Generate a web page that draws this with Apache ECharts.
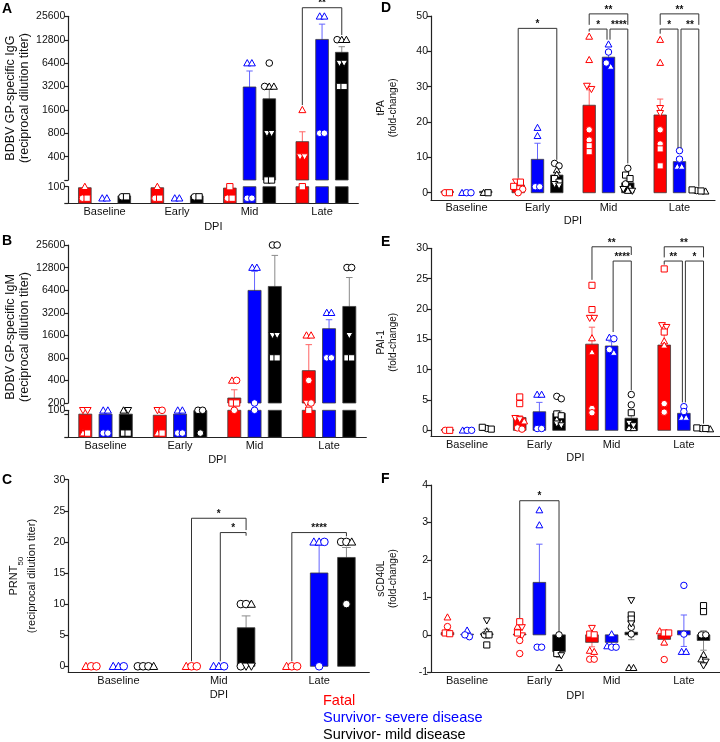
<!DOCTYPE html>
<html>
<head>
<meta charset="utf-8">
<title>BDBV antibody and coagulation responses</title>
<script src="https://cdn.jsdelivr.net/npm/echarts@6.0.0/dist/echarts.min.js"></script>
<style>
html,body{margin:0;padding:0;background:#ffffff;}
#chart{width:720px;height:742px;}
</style>
</head>
<body>
<div id="chart"></div>
<script>
/* ===================== DATA ===================== */
const groupNames = ['Fatal', 'Survivor- severe disease', 'Survivor- mild disease'];
const dpiFour = ['Baseline', 'Early', 'Mid', 'Late'];
const dpiThree = ['Baseline', 'Mid', 'Late'];
// marker of each animal, in the order used by the point lists below
const fatalMarkers = ['t', 't', 'v', 'v', 'c', 'c', 's', 's'];
const severeMarkers = ['t', 't', 'c', 'c'];
const mildMarkers = ['c', 'c', 'c', 't', 't', 's', 's', 'v', 'v'];

// A: BDBV GP-specific IgG (reciprocal dilution titer); rows = DPI, cols = groups
const igGMean = [[97, 60, 76], [97, 60, 76], [96, 3150, 2220], [623, 12900, 8800]];
const igGSem = [[0, 0, 0], [0, 0, 0], [0, 1910, 730], [212, 7400, 1600]];
const igGPoints = [
  [[100, null, null, null, 71, null, 71, null], [71, 71, null, null], [74, null, null, null, null, 74, null, null, null]],
  [[100, null, null, null, 71, null, 71, null], [71, 71, null, null], [74, null, null, null, null, 74, null, null, null]],
  [[null, null, null, null, 71, null, 100, 71], [6400, 6400, 71, 71], [6400, 3200, null, 3200, 3200, 200, 200, 800, 800]],
  [[1600, null, 400, 400, null, null, 100, null], [25600, 25600, 800, 800], [12800, null, null, 12800, 12800, 3200, 3200, 6400, 6400]]
];
const igGBrackets = [[3, 0, 2, 33000, 1840, 14700, '**']];

// B: BDBV GP-specific IgM
const igMMean = [[89, 89, 89], [86, 89, 99], [233, 6350, 7170], [540, 1960, 3880]];
const igMSem = [[0, 0, 0], [0, 0, 0], [67, 5050, 11430], [660, 620, 5550]];
const igMPoints = [
  [[null, 50, 100, 100, null, null, 50, null], [100, 100, 50, 50], [null, null, null, 100, null, 50, 50, 100, null]],
  [[null, 50, 100, null, 100, null, 50, null], [100, 100, 50, 50], [100, 100, 50, null, null, null, null, null, null]],
  [[400, null, null, null, 400, 100, 200, 200], [12800, 12800, 200, 100], [25600, 25600, null, null, null, 800, 800, 1600, 1600]],
  [[1600, 1600, 200, null, 400, 200, 100, null], [3200, 3200, 800, 800], [12800, 12800, null, null, null, 800, 800, 1600, null]]
];

// C: PRNT50
const prntMean = [[0, 0, 0], [0, 0, 6.2], [0, 15, 17.5]];
const prntSem = [[0, 0, 0], [0, 0, 1.9], [0, 4.5, 1.6]];
const prntPoints = [
  [[0, null, null, null, 0, 0, null, null], [0, 0, 0, null], [0, 0, 0, 0, null, null, null, null, null]],
  [[0, null, null, null, 0, 0, null, null], [0, 0, 0, null], [10, 10, 0, 10, null, null, null, 0, 0]],
  [[0, null, null, null, 0, 0, null, null], [20, 20, 20, 0], [20, 20, 10, 20, null, null, null, null, null]]
];
const prntBrackets = [[1, 0, 2, 23.8, 0.8, 21.9, '*'], [1, 1, 2, 21.5, 0.8, 21.0, '*'], [2, 0, 2, 21.5, 0.8, 20.9, '****']];

// D: tPA (fold-change)
const tpaMean = [[0.4, 0.2, 0.4], [2.2, 9.45, 5.0], [24.75, 38.35, 2.8], [22, 8.8, 0.5]];
const tpaSem = [[0.1, 0.1, 0.1], [0.5, 4.55, 0.8], [4.35, 1.4, 0.8], [4.5, 1.1, 0.1]];
const tpaPoints = [
  [[null, null, null, null, 0, null, 0, null], [0, null, 0, 0], [null, null, null, 0, null, 0, null, null, null]],
  [[null, null, 3.1, 1.2, 1.0, 0, 3.0, 1.8], [18.4, 16.1, 1.7, 1.7], [8.3, 7.6, null, 6.4, 5.2, 4.0, 3.0, 2.4, 2.0]],
  [[44.2, 37.6, 30.2, 29.3, 17.8, 14.9, 13.3, 11.6], [42.0, 35.7, 39.8, 36.7], [6.9, 2.5, null, 1.5, 0.6, 5.0, 4.0, 1.0, 0.5]],
  [[43.3, 36.8, 23.9, 22.5, 17.8, 13.8, 12.4, 7.6], [7.4, 7.4, 11.9, 9.5], [0.6, null, null, 0.4, null, 0.8, 0.5, null, null]]
];
const tpaBrackets = [
  [1, 0, 2, 46.5, 4.2, 9.3, '*'],
  [2, 0, 2, 50.6, 47.5, 47.5, '**'], [2, 0, 1, 46.3, 45.6, 43.3, '*'], [2, 1, 2, 46.3, 43.3, 8.3, '****'],
  [3, 0, 2, 50.6, 47.5, 47.5, '**'], [3, 0, 1, 46.3, 45.0, 12.6, '*'], [3, 1, 2, 46.3, 12.6, 1.7, '**']
];

// E: PAI-1 (fold-change)
const paiMean = [[0.1, 0.05, 0.3], [2.1, 3.06, 2.8], [14.2, 13.9, 2.0], [14.05, 2.8, 0.3]];
const paiSem = [[0.05, 0.05, 0.1], [0.3, 1.55, 0.4], [2.8, 0.7, 0.85], [2.5, 0.4, 0.05]];
const paiPoints = [
  [[null, null, null, null, 0, null, 0, null], [0, null, 0, 0], [0.3, null, null, null, null, 0.5, 0.2, null, null]],
  [[null, 1.5, 2.0, 1.8, 0.4, 0.2, 5.5, 4.4], [5.9, 5.9, 0.3, 0.3], [5.6, 5.2, null, 1.8, 1.3, 2.7, 2.4, 1.1, 0.8]],
  [[15.2, 12.9, 18.5, 18.5, 3.6, 2.9, 23.9, 19.9], [15.3, 12.8, 15.1, 13.3], [5.9, 4.2, null, 0.4, 0.4, 2.9, null, 1.2, 0.8]],
  [[14.7, 14.0, 17.3, 17.0, 4.4, 3.0, 16.2, 26.6], [2.1, 2.1, 3.9, 3.1], [0.3, null, null, 0.2, null, 0.4, 0.3, null, null]]
];
const paiBrackets = [
  [2, 0, 2, 30.25, 24.8, 28.9, '**'], [2, 1, 2, 27.9, 16.2, 6.6, '****'],
  [3, 0, 2, 30.25, 28.5, 28.5, '**'], [3, 0, 1, 27.9, 27.3, 4.6, '**'], [3, 1, 2, 27.9, 4.6, 1.1, '*']
];

// F: sCD40L (fold-change)
const cdMean = [[0.06, 0.02, 0.03], [0.02, 1.4, -0.45], [-0.2, -0.2, 0.07], [-0.12, 0.11, -0.15]];
const cdSem = [[0.08, 0.05, 0.12], [0.12, 1.02, 0.15], [0.12, 0.08, 0.2], [0.15, 0.42, 0.26]];
const cdPoints = [
  [[0.47, null, null, null, 0.22, null, 0.05, 0.03], [0.12, null, -0.05, 0.0], [0.0, null, null, 0.1, null, 0.0, -0.27, 0.38, null]],
  [[0.22, null, 0.2, -0.02, -0.15, -0.5, 0.35, 0.05], [3.33, 2.93, -0.33, -0.33], [0.0, null, null, -0.88, null, -0.5, null, -0.55, null]],
  [[-0.42, -0.45, 0.18, null, -0.65, -0.65, 0.02, 0.0], [0.02, -0.3, -0.33, -0.33], [0.2, 0.02, null, -0.88, -0.88, 0.53, 0.42, 0.92, 0.3]],
  [[0.1, -0.2, null, null, -0.66, null, 0.05, 0.05], [-0.45, -0.45, 1.32, 0.02], [0.0, 0.0, null, -0.53, -0.65, 0.78, 0.62, -0.72, -0.82]]
];
const cdBrackets = [[1, 0, 2, 3.58, 0.45, 0.08, '*']];

/* ===================== STYLE / BUILDERS ===================== */
const COLORS = ['#ff0000', '#0000ff', '#000000'];
const ERRC = ['#ff6464', '#6464ff', '#8a8a8a'];
const AX = '#222222', TXT = '#111111';
const FONT = '"Liberation Sans", Arial, sans-serif';
const OFF = 0.272, BARW = 0.175;
const markers = [fatalMarkers, severeMarkers, mildMarkers];

const option = { animation: false, backgroundColor: '#ffffff', grid: [], xAxis: [], yAxis: [], series: [], graphic: [] };

function merge(a, b) {
  const o = Object.assign({}, a);
  for (const k in b) {
    const v = b[k];
    if (v && typeof v === 'object' && !Array.isArray(v) && a[k] && typeof a[k] === 'object') o[k] = merge(a[k], v);
    else o[k] = v;
  }
  return o;
}

function symbolEl(m, x, y, s, color) {
  const style = { fill: '#ffffff', stroke: color, lineWidth: 1 };
  const h = s / 2;
  if (m === 'c') return { type: 'circle', shape: { cx: x, cy: y, r: h * 0.95 }, style };
  if (m === 's') return { type: 'rect', shape: { x: x - h * 0.9, y: y - h * 0.9, width: s * 0.9, height: s * 0.9 }, style };
  if (m === 't') return { type: 'polygon', shape: { points: [[x, y - h], [x + h, y + h * 0.8], [x - h, y + h * 0.8]] }, style };
  return { type: 'polygon', shape: { points: [[x, y + h], [x + h, y - h * 0.8], [x - h, y - h * 0.8]] }, style };
}

function groupX(api, c, yv, g) {
  const band = api.size([1, 0])[0];
  return api.coord([c, yv])[0] + (g - 1) * band * OFF;
}

function addPanel(P) {
  const topIdx = P.segs.length - 1;
  P.segs.forEach(function (S, si) {
    const isTop = si === topIdx, isBottom = si === 0;
    const gi = option.grid.length;
    option.grid.push({ left: S.rect[0], top: S.rect[1], width: S.rect[2], height: S.rect[3] });
    const xi = option.xAxis.length;
    option.xAxis.push({
      gridIndex: gi, type: 'category', data: P.cats, show: isBottom, boundaryGap: true,
      axisLine: { show: true, onZero: false, lineStyle: { color: AX, width: 1.2 } },
      axisTick: { show: false }, splitLine: { show: false },
      axisLabel: { show: true, color: TXT, fontSize: 11, margin: 3, fontFamily: FONT },
      name: isBottom ? 'DPI' : '', nameLocation: 'middle', nameGap: P.xGap,
      nameTextStyle: { color: TXT, fontSize: 11, fontFamily: FONT }
    });
    const yi = option.yAxis.length;
    const yBase = {
      gridIndex: gi, position: 'left', splitLine: { show: false },
      axisLine: { show: true, onZero: false, lineStyle: { color: AX, width: 1.2 } },
      axisTick: { show: true, length: 4, lineStyle: { color: AX, width: 1.2 } },
      axisLabel: { show: true, color: TXT, fontSize: 10.5, margin: 3, fontFamily: FONT, showMinLabel: true, showMaxLabel: true }
    };
    if (isTop) {
      yBase.name = P.yName; yBase.nameLocation = 'middle'; yBase.nameGap = P.yGap;
      yBase.nameTextStyle = P.yNameStyle;
    }
    option.yAxis.push(merge(yBase, S.y));
    const log = !!S.log, lo = S.lo, hi = S.hi, sym = P.sym;
    const inSeg = v => v >= lo && v <= hi;

    // error bars
    const errData = [];
    P.mean.forEach((row, c) => row.forEach((m, g) => {
      const s = P.sem[c][g];
      if (s > 0 && m > lo && m <= hi) errData.push([c, g, m, s]);
    }));
    option.series.push({
      type: 'custom', xAxisIndex: xi, yAxisIndex: yi, z: 2, data: errData, encode: { x: 0, y: 2 },
      renderItem: function (params, api) {
        const c = api.value(0), g = api.value(1), m = api.value(2), s = api.value(3);
        const band = api.size([1, 0])[0], cw = band * BARW * 0.5;
        const x = groupX(api, c, m, g);
        let lv = m - s, clamped = false;
        if (log && lv < lo) { lv = lo; clamped = true; }
        const yH = api.coord([c, m + s])[1], yL = api.coord([c, lv])[1];
        const st = { stroke: ERRC[g], lineWidth: 1 };
        const ch = [
          { type: 'line', shape: { x1: x, y1: yL, x2: x, y2: yH }, style: st },
          { type: 'line', shape: { x1: x - cw / 2, y1: yH, x2: x + cw / 2, y2: yH }, style: st }
        ];
        if (!clamped) ch.push({ type: 'line', shape: { x1: x - cw / 2, y1: yL, x2: x + cw / 2, y2: yL }, style: st });
        return { type: 'group', children: ch };
      }
    });

    // bars
    const barData = [];
    P.mean.forEach((row, c) => row.forEach((m, g) => {
      if (log) { if (Math.min(m, hi) > S.base) barData.push([c, g, m]); }
      else if (m !== 0) barData.push([c, g, m]);
    }));
    option.series.push({
      type: 'custom', xAxisIndex: xi, yAxisIndex: yi, z: 3, data: barData, encode: { x: 0, y: 2 },
      renderItem: function (params, api) {
        const c = api.value(0), g = api.value(1), m = api.value(2);
        const bw = api.size([1, 0])[0] * BARW;
        const top = log ? Math.min(m, hi) : m;
        const x = groupX(api, c, top, g);
        const yb = api.coord([c, S.base])[1], yt = api.coord([c, top])[1];
        return {
          type: 'rect', shape: { x: x - bw / 2, y: Math.min(yb, yt), width: bw, height: Math.abs(yb - yt) },
          style: { fill: COLORS[g], stroke: '#3c3c3c', lineWidth: 0.8 }
        };
      }
    });

    // individual animals
    const items = [];
    P.pts.forEach((row, c) => row.forEach((vals, g) => vals.forEach((v, a) => {
      if (v !== null && inSeg(v)) items.push({ c, g, a, v, m: markers[g][a] });
    })));
    option.series.push({
      type: 'custom', xAxisIndex: xi, yAxisIndex: yi, z: 4,
      data: items.map((it, i) => [it.c, it.g, it.v, i]), encode: { x: 0, y: 2 },
      renderItem: function (params, api) {
        const it = items[api.value(3)];
        const members = items.filter(o => o.c === it.c && o.g === it.g)
          .map(o => ({ o, y: api.coord([o.c, o.v])[1] }))
          .sort((p, q) => (p.y - q.y) || (p.o.a - q.o.a));
        const rows = []; let cur = null;
        members.forEach(e => {
          if (!cur || e.y - cur.y0 > sym * 0.55) { cur = { y0: e.y, m: [] }; rows.push(cur); }
          cur.m.push(e);
        });
        let dx = 0, yy = 0;
        rows.forEach(r => r.m.forEach((e, k) => {
          if (e.o === it) { dx = (k - (r.m.length - 1) / 2) * sym * 0.66; yy = e.y; }
        }));
        const x = groupX(api, it.c, it.v, it.g) + dx;
        return symbolEl(it.m, x, yy, sym, COLORS[it.g]);
      }
    });

    // significance brackets
    if (isTop && P.brackets && P.brackets.length) {
      option.series.push({
        type: 'custom', xAxisIndex: xi, yAxisIndex: yi, z: 5,
        data: P.brackets.map((b, i) => [b[0], b[1], b[3], b[2], b[4], b[5], i]), encode: { x: 0, y: 2 },
        renderItem: function (params, api) {
          const b = P.brackets[api.value(6)];
          const c = b[0], g1 = b[1], g2 = b[2], h = b[3];
          const x1 = groupX(api, c, h, g1) + (g1 === 1 ? 1.5 : 0);
          const x2 = groupX(api, c, h, g2) - (g2 === 1 ? 1.5 : 0);
          const yb = api.coord([c, h])[1];
          const y1 = api.coord([c, b[4]])[1], y2 = api.coord([c, b[5]])[1];
          return {
            type: 'group', children: [
              { type: 'polyline', shape: { points: [[x1, y1], [x1, yb], [x2, yb], [x2, y2]] }, style: { stroke: '#333333', lineWidth: 1, fill: null } },
              { type: 'text', style: { text: b[6], x: (x1 + x2) / 2, y: yb + 1, align: 'center', verticalAlign: 'bottom', font: 'bold 10px ' + FONT, fill: '#111111' } }
            ]
          };
        }
      });
    }
  });
}

function titerLabel(hide200) {
  return function (v) {
    const k = Math.round(Math.log2(v / 100));
    const val = 100 * Math.pow(2, k);
    if (hide200 && val === 200) return '';
    return String(val);
  };
}

const nameBig = { color: TXT, fontSize: 12.5, lineHeight: 14.5, fontFamily: FONT };
const nameSmall = { color: TXT, fontSize: 10, lineHeight: 12, fontFamily: FONT };

// Panel A
addPanel({
  cats: dpiFour, mean: igGMean, sem: igGSem, pts: igGPoints, brackets: igGBrackets, sym: 7, xGap: 18,
  yName: 'BDBV GP-specific IgG\n(reciprocal dilution titer)', yGap: 36, yNameStyle: nameBig,
  segs: [
    { rect: [68.3, 186.7, 290, 16.6], log: true, lo: 61, hi: 100, base: 61,
      y: { type: 'log', logBase: 2, min: 61, max: 100, interval: 1, axisLabel: { formatter: v => (v > 95 ? '100' : '') } } },
    { rect: [68.3, 16.3, 290, 163.7], log: true, lo: 200, hi: 1e9, base: 200,
      y: { type: 'log', logBase: 2, min: 200, max: 25600, interval: 1, axisLabel: { formatter: titerLabel(true) } } }
  ]
});

// Panel B
addPanel({
  cats: dpiFour, mean: igMMean, sem: igMSem, pts: igMPoints, brackets: [], sym: 7, xGap: 17,
  yName: 'BDBV GP-specific IgM\n(reciprocal dilution titer)', yGap: 36,
  yNameStyle: Object.assign({ padding: [0, 26, 0, 0] }, nameBig),
  segs: [
    { rect: [68.3, 410.3, 298, 27], log: true, lo: 44, hi: 100, base: 44,
      y: { type: 'log', logBase: 2, min: 44, max: 100, interval: 1, axisLabel: { formatter: v => (v > 95 ? '100' : '') } } },
    { rect: [68.3, 245, 298, 158], log: true, lo: 200, hi: 1e9, base: 200,
      y: { type: 'log', logBase: 2, min: 200, max: 25600, interval: 1, axisLabel: { formatter: titerLabel(false) } } }
  ]
});

// Panel C
addPanel({
  cats: dpiThree, mean: prntMean, sem: prntSem, pts: prntPoints, brackets: prntBrackets, sym: 8, xGap: 17,
  yName: '{a|PRNT}{b|50}\n{c|(reciprocal dilution titer)}', yGap: 29,
  yNameStyle: { color: TXT, fontFamily: FONT, rich: {
    a: { fontSize: 11, lineHeight: 16, verticalAlign: 'top', fontFamily: FONT, color: TXT },
    b: { fontSize: 8, lineHeight: 8, verticalAlign: 'bottom', fontFamily: FONT, color: TXT },
    c: { fontSize: 11, lineHeight: 15, fontFamily: FONT, color: TXT } } },
  segs: [
    { rect: [68.3, 479.7, 301, 192.8], lo: -1e9, hi: 1e9, base: 0,
      y: { type: 'value', min: -1, max: 30, axisLabel: { customValues: [0, 5, 10, 15, 20, 25, 30] }, axisTick: { customValues: [0, 5, 10, 15, 20, 25, 30] } } }
  ]
});

// Panel D
addPanel({
  cats: dpiFour, mean: tpaMean, sem: tpaSem, pts: tpaPoints, brackets: tpaBrackets, sym: 6.8, xGap: 16,
  yName: 'tPA\n(fold-change)', yGap: 31.5, yNameStyle: nameSmall,
  segs: [
    { rect: [431, 16, 284, 183.8], lo: -1e9, hi: 1e9, base: 0,
      y: { type: 'value', min: -2, max: 50, axisLabel: { customValues: [0, 10, 20, 30, 40, 50] }, axisTick: { customValues: [0, 10, 20, 30, 40, 50] } } }
  ]
});

// Panel E
addPanel({
  cats: dpiFour, mean: paiMean, sem: paiSem, pts: paiPoints, brackets: paiBrackets, sym: 6.8, xGap: 16,
  yName: 'PAI-1\n(fold-change)', yGap: 31.5, yNameStyle: nameSmall,
  segs: [
    { rect: [431, 248.3, 289, 188.1], lo: -1e9, hi: 1e9, base: 0,
      y: { type: 'value', min: -1, max: 30, axisLabel: { customValues: [0, 5, 10, 15, 20, 25, 30] }, axisTick: { customValues: [0, 5, 10, 15, 20, 25, 30] } } }
  ]
});

// Panel F
addPanel({
  cats: dpiFour, mean: cdMean, sem: cdSem, pts: cdPoints, brackets: cdBrackets, sym: 6.8, xGap: 18,
  yName: 'sCD40L\n(fold-change)', yGap: 31.5, yNameStyle: nameSmall,
  segs: [
    { rect: [431, 485, 289, 187.3], lo: -1e9, hi: 1e9, base: 0,
      y: { type: 'value', min: -1, max: 4, axisLabel: { customValues: [-1, 0, 1, 2, 3, 4] }, axisTick: { customValues: [-1, 0, 1, 2, 3, 4] } } }
  ]
});

// panel letters
const panelLetters = [['A', 2, 2.5], ['B', 2, 234.5], ['C', 2, 473.5], ['D', 381, 1], ['E', 381, 235.5], ['F', 381, 472.5]];
panelLetters.forEach(p => option.graphic.push({
  type: 'text', style: { text: p[0], x: p[1], y: p[2], font: 'bold 14px ' + FONT, fill: '#000000', verticalAlign: 'top' }
}));
// group key
groupNames.forEach((n, i) => option.graphic.push({
  type: 'text', style: { text: n, x: 323, y: 701 + i * 17, font: '14.5px ' + FONT, fill: COLORS[i], verticalAlign: 'middle' }
}));

const chart = echarts.init(document.getElementById('chart'), null, { renderer: 'canvas' });
chart.setOption(option);
</script>
</body>
</html>
